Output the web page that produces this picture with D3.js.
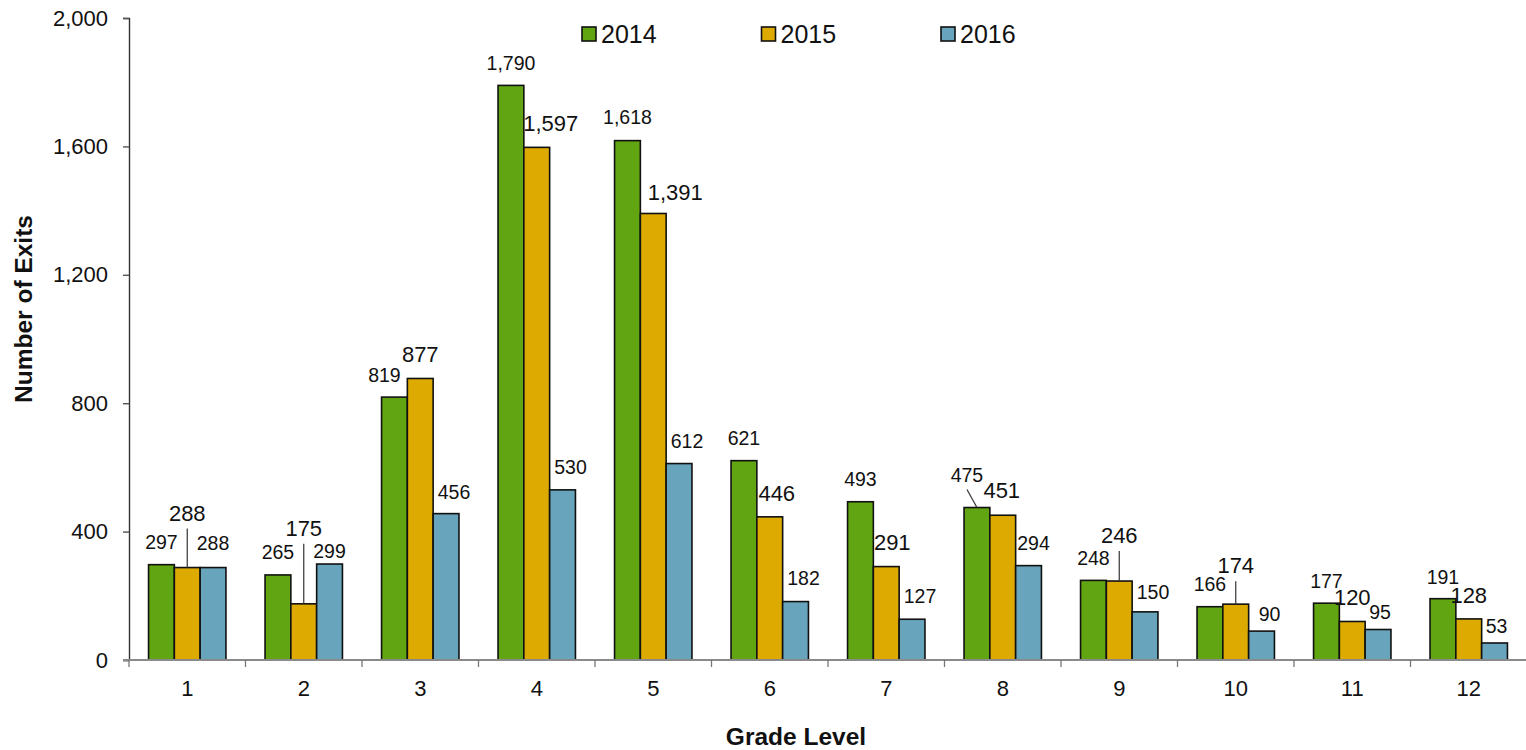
<!DOCTYPE html>
<html>
<head>
<meta charset="utf-8">
<script src="https://cdn.jsdelivr.net/npm/d3@7/dist/d3.min.js"></script>
<style>
  html, body { margin: 0; padding: 0; background: #fff; }
  svg { display: block; font-family: "Liberation Sans", Arial, sans-serif; }
</style>
</head>
<body>
<svg id="chart" width="1526" height="750"></svg>
<script>
// Exits by grade level, three school years
const grades = ["1", "2", "3", "4", "5", "6", "7", "8", "9", "10", "11", "12"];
const seriesNames = ["2014", "2015", "2016"];
const exits2014 = [297, 265, 819, 1790, 1618, 621, 493, 475, 248, 166, 177, 191];
const exits2015 = [288, 175, 877, 1597, 1391, 446, 291, 451, 246, 174, 120, 128];
const exits2016 = [288, 299, 456, 530, 612, 182, 127, 294, 150, 90, 95, 53];
const yTicks = [0, 400, 800, 1200, 1600, 2000];

// Label placement tweaks (offset from the bar centre / bar top)
const labelDx = [
  [0, 0, -10, 0, 0, 0, 0, -10, 0, 0, 0, 0],
  [0, 0, 0, 14, 22, 7, 6, -1, 0, 0, 0, 0],
  [0, 0, 8, 8, 8, 8, 8, 5, 8, 8, 2, 2]
];
const labelDy = [
  [-16, -16, -15, -15, -17, -16, -16, -26, -15, -16, -15, -15],
  [-47, -68, -16, -16, -13, -16, -17, -17, -38, -31, -16, -16],
  [-18, -6, -15, -16, -16, -17, -16, -16, -13, -10, -11, -10]
];
// Labels joined to their bar by a leader line: [series, grade index]
const leaders = [[1, 0], [1, 1], [0, 7], [1, 8], [1, 9]];

const colors = ["#61a513", "#dcaa00", "#68a4bb"];
const labelSize = [19.5, 22, 19.5];
const values = [exits2014, exits2015, exits2016];

const svg = d3.select("#chart");

const x0 = d3.scaleBand().domain(grades).range([129, 1527]).padding(0);
const groupW = 77.4;
const x1 = d3.scaleBand().domain(seriesNames).range([0, groupW]).padding(0);
const y = d3.scaleLinear().domain([0, 2000]).range([660, 18]);

const barX = (si, gi) => x0(grades[gi]) + (x0.bandwidth() - groupW) / 2 + x1(seriesNames[si]);

// Bars
seriesNames.forEach((name, si) => {
  svg.append("g")
    .selectAll("rect")
    .data(values[si])
    .join("rect")
    .attr("x", (d, gi) => barX(si, gi))
    .attr("y", d => y(d))
    .attr("width", x1.bandwidth())
    .attr("height", d => y(0) - y(d))
    .attr("fill", colors[si])
    .attr("stroke", "#111")
    .attr("stroke-width", 1.6);
});

// Y axis
const yAxis = svg.append("g")
  .attr("transform", "translate(129,0)")
  .call(d3.axisLeft(y).tickValues(yTicks).tickFormat(d3.format(",")).tickSize(6).tickPadding(15));
yAxis.select(".domain").attr("stroke", "#333").attr("stroke-width", 1.4);
yAxis.selectAll(".tick line").attr("stroke", "#555").attr("stroke-width", 1.4);
yAxis.selectAll(".tick text")
  .attr("font-size", 22)
  .attr("font-family", "'Liberation Sans', Arial, sans-serif")
  .attr("fill", "#111");

// X axis line and tick marks at group boundaries
svg.append("line")
  .attr("x1", 123).attr("x2", 1526)
  .attr("y1", y(0)).attr("y2", y(0))
  .attr("stroke", "#8a8a8a").attr("stroke-width", 2);
const bounds = grades.map(g => x0(g)).concat([x0.range()[1]]);
svg.append("g").selectAll("line")
  .data(bounds)
  .join("line")
  .attr("x1", d => d).attr("x2", d => d)
  .attr("y1", y(0)).attr("y2", y(0) + 7)
  .attr("stroke", "#777").attr("stroke-width", 1.3);

svg.append("g").selectAll("text")
  .data(grades)
  .join("text")
  .attr("x", d => x0(d) + x0.bandwidth() / 2)
  .attr("y", 696)
  .attr("text-anchor", "middle")
  .attr("font-size", 22)
  .attr("fill", "#111")
  .text(d => d);

// Axis titles
svg.append("text")
  .attr("x", 796).attr("y", 745)
  .attr("text-anchor", "middle")
  .attr("font-size", 24.5).attr("font-weight", "bold")
  .attr("fill", "#111")
  .text("Grade Level");

svg.append("text")
  .attr("transform", "translate(32,309) rotate(-90)")
  .attr("text-anchor", "middle")
  .attr("font-size", 24.5).attr("font-weight", "bold")
  .attr("fill", "#111")
  .text("Number of Exits");

// Value labels
const fmt = d3.format(",");
seriesNames.forEach((name, si) => {
  svg.append("g")
    .selectAll("text")
    .data(values[si])
    .join("text")
    .attr("x", (d, gi) => barX(si, gi) + x1.bandwidth() / 2 + labelDx[si][gi])
    .attr("y", (d, gi) => y(d) + labelDy[si][gi])
    .attr("text-anchor", "middle")
    .attr("font-size", labelSize[si])
    .attr("fill", "#111")
    .text(d => fmt(d));
});

// Leader lines
svg.append("g").selectAll("line")
  .data(leaders)
  .join("line")
  .attr("x1", ([si, gi]) => barX(si, gi) + x1.bandwidth() / 2 + labelDx[si][gi])
  .attr("y1", ([si, gi]) => y(values[si][gi]) + labelDy[si][gi] + 8)
  .attr("x2", ([si, gi]) => barX(si, gi) + x1.bandwidth() / 2)
  .attr("y2", ([si, gi]) => y(values[si][gi]))
  .attr("stroke", "#333").attr("stroke-width", 1.2);

// Legend
const legend = svg.append("g").selectAll("g")
  .data(seriesNames)
  .join("g")
  .attr("transform", (d, i) => `translate(${582 + i * 179.5},27)`);
legend.append("rect")
  .attr("width", 14).attr("height", 14)
  .attr("fill", (d, i) => colors[i])
  .attr("stroke", "#111").attr("stroke-width", 1.6);
legend.append("text")
  .attr("x", 19).attr("y", 15.5)
  .attr("font-size", 25)
  .attr("fill", "#111")
  .text(d => d);
</script>
</body>
</html>
